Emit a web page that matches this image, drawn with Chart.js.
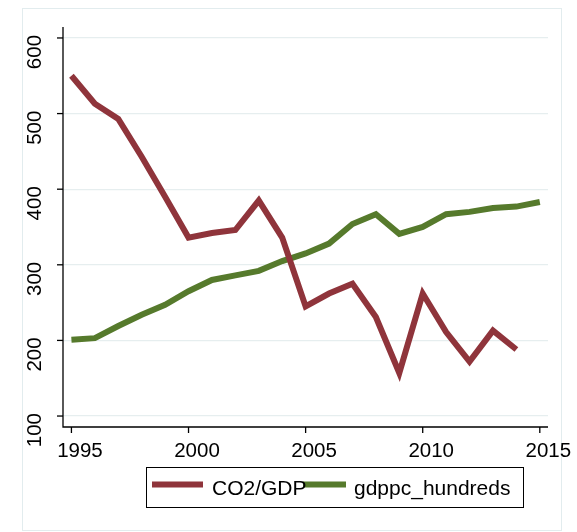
<!DOCTYPE html>
<html>
<head>
<meta charset="utf-8">
<script src="https://cdn.jsdelivr.net/npm/chart.js@4"></script>
<style>
  html, body { margin: 0; padding: 0; background: #fff; }
  canvas { display: block; }
</style>
</head>
<body>
<canvas id="myChart" width="577" height="532"></canvas>
<script>
var years = [1995, 1996, 1997, 1998, 1999, 2000, 2001, 2002, 2003, 2004, 2005,
             2006, 2007, 2008, 2009, 2010, 2011, 2012, 2013, 2014, 2015];
var co2Gdp = [550, 513, 493, 443, 390, 336, 342, 346, 385, 336, 245,
              262, 275, 231, 157, 262, 211, 172, 213, 188, null];
var gdppcHundreds = [201, 203, 219, 234, 247, 265, 280, 286, 292, 305, 315,
                     328, 354, 367, 341, 350, 367, 370, 375, 377, 383];
var xTicks = [1995, 2000, 2005, 2010, 2015];
var yTicks = [100, 200, 300, 400, 500, 600];

var FONT = '20.5px "Liberation Sans", Arial, sans-serif';
var LEGEND_FONT = '21px "Liberation Sans", Arial, sans-serif';
var RED = '#8f343b';
var GREEN = '#567a2c';

function points(vals) {
    var out = [];
    for (var i = 0; i < years.length; i++) {
        if (vals[i] !== null) out.push({x: years[i], y: vals[i]});
    }
    return out;
}

// axes, tick marks, rotated y labels, frame and legend box
var decor = {
    id: 'decor',
    beforeDraw: function(chart) {
        var c = chart.ctx;
        c.save();
        c.fillStyle = '#fff';
        c.fillRect(0, 0, chart.width, chart.height);
        c.strokeStyle = '#e2ecee';
        c.lineWidth = 1;
        c.strokeRect(22.5, 8.5, 539, 522);
        c.restore();
    },
    afterDraw: function(chart) {
        var c = chart.ctx, a = chart.chartArea;
        var xs = chart.scales.x, ys = chart.scales.y;
        c.save();
        c.strokeStyle = '#000';
        c.lineWidth = 1.3;
        c.beginPath();
        c.moveTo(a.left, a.top);
        c.lineTo(a.left, a.bottom);
        c.lineTo(a.right, a.bottom);
        c.stroke();

        c.fillStyle = '#000';
        c.font = FONT;
        // y ticks and labels
        yTicks.forEach(function(v) {
            var py = ys.getPixelForValue(v);
            c.beginPath();
            c.moveTo(a.left - 6, py);
            c.lineTo(a.left, py);
            c.stroke();
            c.save();
            c.translate(41, py - 3);
            c.rotate(-Math.PI / 2);
            c.textAlign = 'right';
            c.textBaseline = 'alphabetic';
            c.fillText(String(v), 0, 0);
            c.restore();
        });
        // x ticks and labels (labels sit a little right of their ticks)
        c.textAlign = 'center';
        c.textBaseline = 'alphabetic';
        xTicks.forEach(function(v) {
            var px = xs.getPixelForValue(v);
            c.beginPath();
            c.moveTo(px, a.bottom);
            c.lineTo(px, a.bottom + 6);
            c.stroke();
            c.fillText(String(v), px + 8.5, 457);
        });

        // legend
        c.lineWidth = 1;
        c.strokeRect(146.5, 467.5, 377, 40);
        var items = [
            {x: 152, w: 51, tx: 212},
            {x: 303, w: 43, tx: 354}
        ];
        c.textAlign = 'left';
        c.font = LEGEND_FONT;
        chart.data.datasets.forEach(function(ds, i) {
            var it = items[i];
            c.strokeStyle = ds.borderColor;
            c.lineWidth = 6;
            c.beginPath();
            c.moveTo(it.x, 484.5);
            c.lineTo(it.x + it.w, 484.5);
            c.stroke();
        });
        chart.data.datasets.forEach(function(ds, i) {
            c.fillStyle = '#000';
            c.fillText(ds.label, items[i].tx, 495);
        });
        c.restore();
    }
};

var ctx = document.getElementById("myChart").getContext('2d');

var myChart = new Chart(ctx, {
    type: 'line',
    data: {
        datasets: [{
            label: 'CO2/GDP',
            data: points(co2Gdp),
            borderColor: RED,
            backgroundColor: RED,
            borderWidth: 6,
            pointRadius: 0,
            tension: 0,
            fill: false
        }, {
            label: 'gdppc_hundreds',
            data: points(gdppcHundreds),
            borderColor: GREEN,
            backgroundColor: GREEN,
            borderWidth: 6,
            pointRadius: 0,
            tension: 0,
            fill: false
        }]
    },
    options: {
        responsive: false,
        animation: false,
        events: [],
        layout: {
            padding: {left: 63, right: 29, top: 27, bottom: 105}
        },
        plugins: {
            legend: {display: false},
            tooltip: {enabled: false}
        },
        scales: {
            x: {
                type: 'linear',
                min: 1994.64,
                max: 2015.35,
                grid: {display: false},
                border: {display: false},
                ticks: {display: false},
                afterFit: function(s) { s.height = 0; }
            },
            y: {
                min: 85.5,
                max: 614.5,
                grid: {color: '#e6eeef', lineWidth: 1.2, drawTicks: false},
                border: {display: false},
                ticks: {display: false},
                afterBuildTicks: function(s) {
                    s.ticks = yTicks.map(function(v) { return {value: v}; });
                },
                afterFit: function(s) { s.width = 0; }
            }
        }
    },
    plugins: [decor]
});
</script>
</body>
</html>
